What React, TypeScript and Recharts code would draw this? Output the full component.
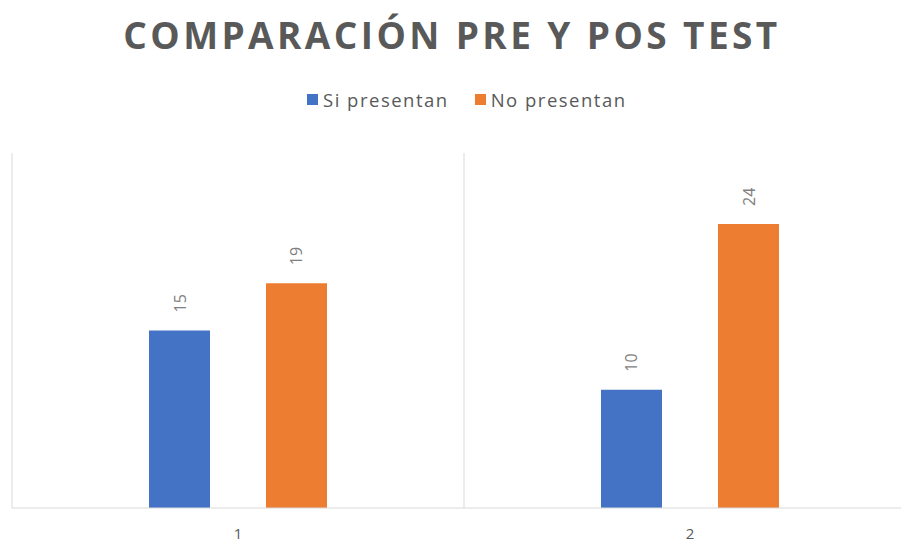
import { Bar, BarChart, CartesianGrid, LabelList, XAxis, YAxis } from "recharts";

const categories = ["1", "2"];
const siPresentan = [15, 10];
const noPresentan = [19, 24];
const seriesNames = ["Si presentan", "No presentan"];
const seriesColors = ["#4472c4", "#ed7d31"];

const data = categories.map((c, i) => ({
  name: c,
  si: siPresentan[i],
  no: noPresentan[i],
}));

const FONT = "'Open Sans', sans-serif";

function RotatedLabel(props: any) {
  const { x, y, width, value } = props;
  const cx = x + width / 2;
  const cy = y - 18;
  return (
    <text
      x={cx}
      y={cy}
      transform={`rotate(-90 ${cx} ${cy})`}
      textAnchor="start"
      dominantBaseline="central"
      fill="#7f7f7f"
      fontSize={16}
      fontFamily={FONT}
    >
      {value}
    </text>
  );
}

export default function App() {
  return (
    <div style={{ position: "absolute", left: 0, top: 0, width: 901, height: 544, overflow: "hidden", background: "#fff" }}>
      <div
        style={{
          position: "absolute",
          top: 9,
          left: 0,
          width: 901,
          paddingLeft: 3,
          boxSizing: "border-box",
          textAlign: "center",
          fontFamily: FONT,
          fontWeight: 700,
          fontSize: 37,
          letterSpacing: 3.4,
          color: "#595959",
        }}
      >
        COMPARACIÓN PRE Y POS TEST
      </div>
      <div
        style={{
          position: "absolute",
          top: 87,
          left: 307,
          display: "flex",
          gap: 26,
          fontFamily: FONT,
          fontSize: 18.5,
          letterSpacing: 1.5,
          color: "#595959",
        }}
      >
        {seriesNames.map((n, i) => (
          <div key={n} style={{ display: "flex", alignItems: "center" }}>
            <span style={{ width: 11, height: 11, background: seriesColors[i], marginRight: 5, display: "inline-block" }} />
            {n}
          </div>
        ))}
      </div>
      <BarChart
        width={920}
        height={544}
        data={data}
        margin={{ top: 153, left: 12, right: 4, bottom: 6 }}
        barGap={56}
        barSize={61}
      >
        <CartesianGrid
          horizontal={false}
          stroke="#d9d9d9"
          verticalCoordinatesGenerator={({ offset }: any) => [
            offset.left,
            offset.left + offset.width / 2,
            offset.left + offset.width,
          ]}
        />
        <XAxis
          dataKey="name"
          tickLine={false}
          axisLine={{ stroke: "#d9d9d9" }}
          tick={{ fill: "#595959", fontSize: 15, fontFamily: FONT }}
          tickMargin={14}
        />
        <YAxis hide domain={[0, 30]} />
        <Bar dataKey="si" name={seriesNames[0]} fill={seriesColors[0]} isAnimationActive={false}>
          <LabelList dataKey="si" content={<RotatedLabel />} />
        </Bar>
        <Bar dataKey="no" name={seriesNames[1]} fill={seriesColors[1]} isAnimationActive={false}>
          <LabelList dataKey="no" content={<RotatedLabel />} />
        </Bar>
      </BarChart>
    </div>
  );
}
